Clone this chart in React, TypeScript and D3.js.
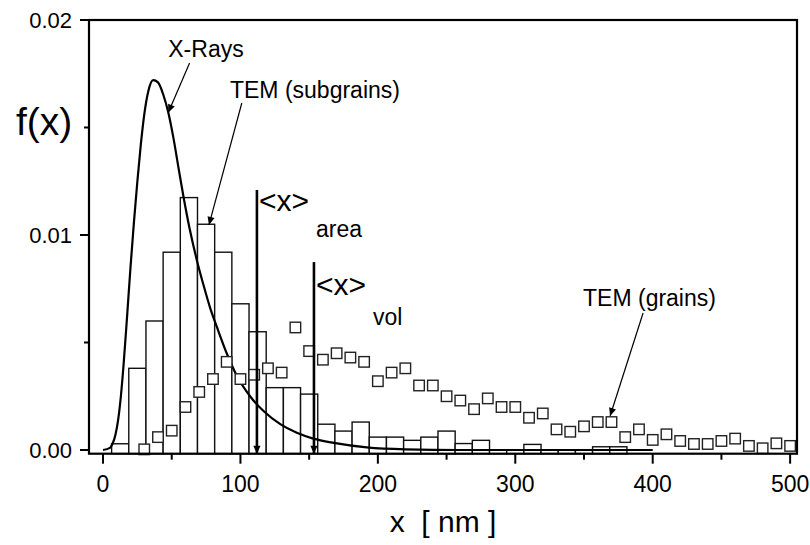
import React from 'react';
import * as d3 from 'd3';

// TEM (subgrains) histogram, bin centres in nm, 12.5 nm wide
const binCenters = [12.5, 25, 37.5, 50, 62.5, 75, 87.5, 100, 112.5, 125, 137.5, 150, 162.5, 175, 187.5,
  200, 212.5, 225, 237.5, 250, 262.5, 275, 287.5, 300, 312.5, 325, 337.5, 350, 362.5, 375];
const binValues = [0.00029, 0.0038, 0.0060, 0.0092, 0.01174, 0.0105, 0.0092, 0.0068, 0.0055, 0.0029,
  0.0029, 0.0026, 0.0012, 0.00088, 0.0013, 0.0006, 0.0006, 0.00045, 0.0006, 0.00088,
  0.0003, 0.00045, 0, 0, 0.00026, 0, 0, 0, 0.00015, 0.00015];

// TEM (grains), open squares
const grainX = [30, 40, 50, 60, 70, 80, 90, 100, 110, 120, 130, 140, 150, 160, 170, 180, 190, 200,
  210, 220, 230, 240, 250, 260, 270, 280, 290, 300, 310, 320, 330, 340, 350, 360, 370, 380,
  390, 400, 410, 420, 430, 440, 450, 460, 470, 480, 490, 500];
const grainF = [0.00003, 0.0006, 0.0009, 0.0020, 0.0027, 0.0033, 0.0041, 0.0033, 0.0035, 0.0038,
  0.0036, 0.0057, 0.0046, 0.0042, 0.0045, 0.0043, 0.0041, 0.0032, 0.0036, 0.0038, 0.0030, 0.0030,
  0.0025, 0.0023, 0.0019, 0.0024, 0.0020, 0.0020, 0.0015, 0.0017, 0.00096, 0.00085, 0.0011,
  0.0013, 0.0013, 0.0006, 0.00096, 0.00047, 0.00073, 0.00042, 0.00028, 0.00028, 0.00042,
  0.00053, 0.00019, 0.00008, 0.00031, 0.00019];

// X-Rays distribution curve
const xrayX = [0, 5, 7, 9, 11, 13, 15, 17.5, 20, 22.5, 25, 27.5, 30, 33, 36.5, 40, 44, 47.5, 51, 55,
  58.5, 63, 68, 73, 78, 83, 90, 97, 107, 117, 129, 141, 153, 168, 192, 220, 260, 400];
const xrayF = [0, 0.0001, 0.0003, 0.0007, 0.0014, 0.0025, 0.0040, 0.0062, 0.0085, 0.0106, 0.0125,
  0.0142, 0.0156, 0.0167, 0.0172, 0.0171, 0.0165, 0.0157, 0.0146, 0.0131, 0.0118, 0.0103, 0.0089,
  0.0077, 0.0066, 0.0057, 0.0045, 0.0035, 0.0025, 0.0018, 0.0012, 0.0008, 0.00053, 0.00033,
  0.00012, 0.00003, 0, 0];

const xTicks = [0, 100, 200, 300, 400, 500];
const xMinor = [50, 150, 250, 350, 450];
const yTicks = [0, 0.01, 0.02];
const yMinor = [0.005, 0.015];
const meanArea = 112;
const meanVol = 153.5;

const W = 810, H = 545;
const FONT = '"Liberation Sans", Arial, sans-serif';

export default function App() {
  const x = d3.scaleLinear().domain([-10.2, 505]).range([89, 797]);
  const y = d3.scaleLinear().domain([-0.000172, 0.02]).range([453.7, 20]);
  const [x0, x1] = x.range();
  const [yb, yt] = y.range();

  const half = (binCenters[1] - binCenters[0]) / 2;
  const line = d3.line<number>()
    .x((d, i) => x(xrayX[i]))
    .y(d => y(d))
    .curve(d3.curveMonotoneX);

  const sq = 10.5;

  return (
    <svg width={W} height={H} style={{ position: 'absolute', left: 0, top: 0, background: '#fff' }}
      fontFamily={FONT}>
      <defs>
        <marker id="head" viewBox="0 0 10 10" refX="10" refY="5" markerWidth="10" markerHeight="8"
          markerUnits="userSpaceOnUse" orient="auto">
          <path d="M0,0.5 L10,5 L0,9.5 z" fill="#000" />
        </marker>
      </defs>

      {/* histogram */}
      <g fill="#fff" stroke="#111" strokeWidth={1.4}>
        {binCenters.map((c, i) => (
          <rect key={i} x={x(c - half)} width={x(c + half) - x(c - half)}
            y={y(binValues[i])} height={yb - y(binValues[i])} />
        ))}
      </g>

      {/* x-ray curve */}
      <path d={line(xrayF) || ''} fill="none" stroke="#000" strokeWidth={2.2} />

      {/* grains */}
      <g fill="#fff" stroke="#222" strokeWidth={1.4}>
        {grainX.map((g, i) => (
          <rect key={i} x={x(g) - sq / 2} y={y(grainF[i]) - sq / 2} width={sq} height={sq} />
        ))}
      </g>

      {/* mean size arrows */}
      <line x1={x(meanArea)} x2={x(meanArea)} y1={y(0.01209)} y2={yb} stroke="#000" strokeWidth={2.6}
        markerEnd="url(#head)" />
      <line x1={x(meanVol)} x2={x(meanVol)} y1={y(0.00874)} y2={yb} stroke="#000" strokeWidth={2.6}
        markerEnd="url(#head)" />

      {/* annotation arrows */}
      <g stroke="#000" strokeWidth={1.2}>
        <line x1={x(63)} y1={y(0.0180)} x2={x(47.5)} y2={y(0.0157)} markerEnd="url(#head)" />
        <line x1={x(101)} y1={y(0.01614)} x2={x(77.1)} y2={y(0.01047)} markerEnd="url(#head)" />
        <line x1={x(393)} y1={y(0.00637)} x2={x(369)} y2={y(0.00158)} markerEnd="url(#head)" />
      </g>

      {/* annotation texts */}
      <g fontSize={23} fill="#000">
        <text x={x(47.5)} y={y(0.01828)}>X-Rays</text>
        <text x={x(92.4)} y={y(0.01637)}>TEM (subgrains)</text>
        <text x={x(349.3)} y={y(0.0067)}>TEM (grains)</text>
        <text x={x(113.5)} y={211} fontSize={30}>&lt;x&gt;</text>
        <text x={316} y={237}>area</text>
        <text x={x(155)} y={295} fontSize={30}>&lt;x&gt;</text>
        <text x={373} y={325}>vol</text>
      </g>

      {/* frame */}
      <rect x={x0} y={yt} width={x1 - x0} height={yb - yt} fill="none" stroke="#000" strokeWidth={2.2} />

      {/* ticks */}
      <g stroke="#000" strokeWidth={2}>
        {xTicks.map(t => <line key={t} x1={x(t)} x2={x(t)} y1={yb} y2={yb + 10} />)}
        {xMinor.map(t => <line key={t} x1={x(t)} x2={x(t)} y1={yb} y2={yb + 6} />)}
        {yTicks.map(t => <line key={t} x1={x0 - 9} x2={x0} y1={y(t)} y2={y(t)} />)}
        {yMinor.map(t => <line key={t} x1={x0 - 5} x2={x0} y1={y(t)} y2={y(t)} />)}
      </g>
      <g fill="#000">
        {xTicks.map(t => (
          <text key={t} x={x(t)} y={492} fontSize={23} textAnchor="middle">{d3.format('d')(t)}</text>
        ))}
        {yTicks.map(t => (
          <text key={t} x={72} y={y(t)} dy="0.36em" fontSize={22} textAnchor="end">{d3.format('.2f')(t)}</text>
        ))}
      </g>

      {/* axis titles */}
      <text x={16} y={135} fontSize={39}>f(x)</text>
      <text x={(x0 + x1) / 2} y={532} fontSize={30} textAnchor="middle" style={{ whiteSpace: 'pre' }}>
        {'x  [ nm ]'}
      </text>
    </svg>
  );
}
